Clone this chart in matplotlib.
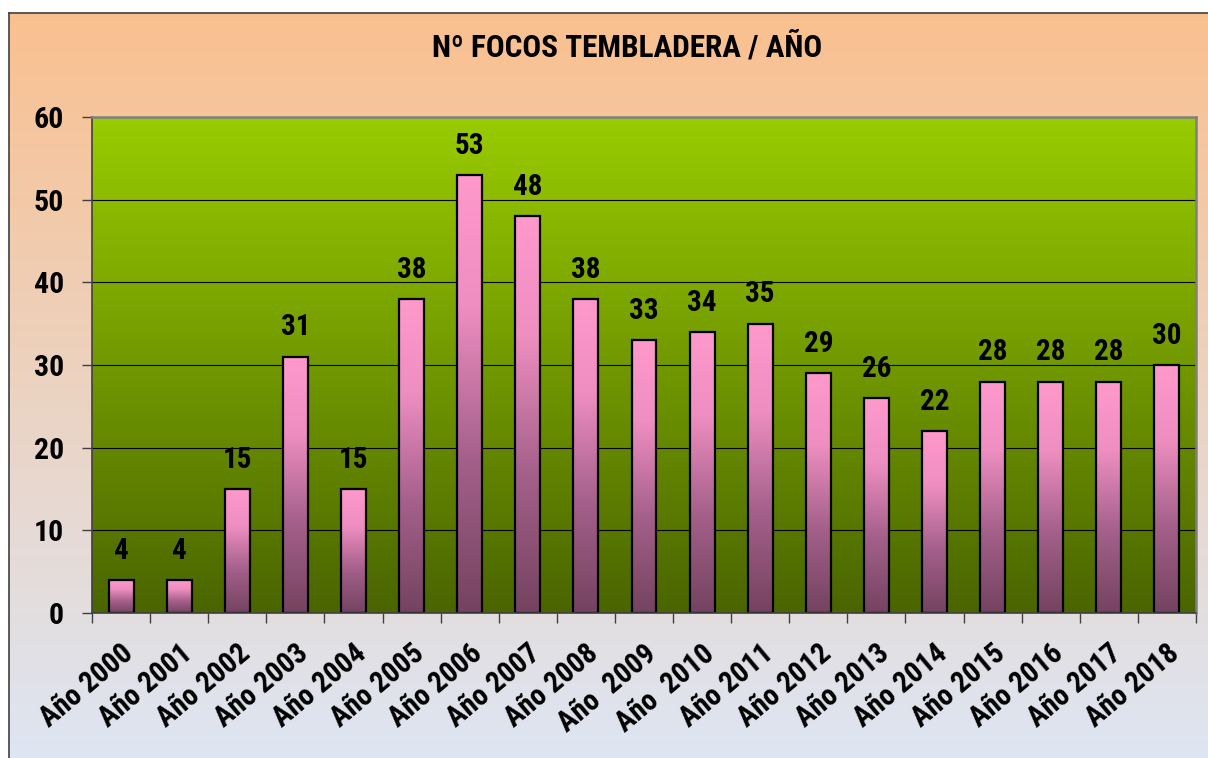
import numpy as np
import matplotlib.pyplot as plt
from matplotlib.colors import LinearSegmentedColormap, to_rgb

plt.rcParams['font.family'] = ['Roboto Condensed', 'Liberation Sans', 'DejaVu Sans']
plt.rcParams['font.weight'] = 'bold'

years = ['Año 2000', 'Año 2001', 'Año 2002', 'Año 2003', 'Año 2004', 'Año 2005',
         'Año 2006', 'Año 2007', 'Año 2008', 'Año  2009', 'Año  2010', 'Año 2011',
         'Año 2012', 'Año 2013', 'Año 2014', 'Año 2015', 'Año 2016', 'Año 2017',
         'Año 2018']
focos = [4, 4, 15, 31, 15, 38, 53, 48, 38, 33, 34, 35, 29, 26, 22, 28, 28, 28, 30]

W, H = 1208, 758
fig = plt.figure(figsize=(W / 100, H / 100), dpi=100)
fig.patch.set_facecolor('white')


def vgrad(top, bottom, n=256):
    t = np.linspace(0, 1, n)[:, None]
    a, b = np.array(to_rgb(top)), np.array(to_rgb(bottom))
    return (a * (1 - t) + b * t)[:, None, :]


# figure background (peach -> light blue) with a frame on left/top
bx0, by1 = 9 / W, 1 - 13 / H
bg = fig.add_axes([bx0, -0.01, 1.02 - bx0, by1 + 0.01], zorder=-5)
bg.imshow(vgrad('#FAC08F', '#DDE6F4'), aspect='auto', extent=[0, 1, 0, 1])
bg.set_xlim(0, 1)
bg.set_ylim(0, 1)
bg.axis('off')
fig.add_artist(plt.Line2D([bx0, bx0], [0, by1], color='#404040', lw=1.2))
fig.add_artist(plt.Line2D([bx0, 1.01], [by1, by1], color='#404040', lw=1.2))

ax = fig.add_axes([92 / W, 1 - 613 / H, (1196 - 92) / W, (613 - 117) / H])
ax.set_facecolor('none')
x = np.arange(len(years))

# plot area gradient
ax.imshow(vgrad('#99CC00', '#4A6500'), aspect='auto',
          extent=[-0.5, len(years) - 0.5, 0, 60], zorder=0)

ax.yaxis.grid(True, color='black', lw=0.8, zorder=1)
ax.set_axisbelow(False)

bars = ax.bar(x, focos, width=0.43, facecolor='none', edgecolor='black',
              linewidth=1.6, zorder=4)

pink = LinearSegmentedColormap.from_list(
    'pink', [(0, '#744360'), (0.35, '#A4608A'), (0.7, '#EE8EC1'), (1, '#FF99CC')])
grad = np.linspace(1, 0, 256)[:, None]
for r in bars:
    ax.imshow(grad, cmap=pink, vmin=0, vmax=1, aspect='auto', zorder=3,
              extent=[r.get_x(), r.get_x() + r.get_width(), 0, r.get_height()])

ax.set_xlim(-0.5, len(years) - 0.5)
ax.set_ylim(0, 60)

ax.bar_label(bars, padding=11, fontsize=21, fontweight='bold', color='black')

ax.set_yticks(range(0, 61, 10))
ax.tick_params(axis='y', length=7, width=1, color='#404040', pad=13, labelsize=21.5)
ax.set_xticks(x)
ax.set_xticklabels(years, rotation=40, ha='right', rotation_mode='anchor',
                   fontsize=21, fontweight='bold')
ax.set_xticks(np.arange(-0.5, len(years), 1), minor=True)
ax.tick_params(axis='x', which='major', length=0, pad=19)
ax.tick_params(axis='x', which='minor', length=7, width=1, color='#404040')
for lab in ax.get_yticklabels():
    lab.set_fontweight('bold')

for s in ['left', 'bottom']:
    ax.spines[s].set_color('#404040')
    ax.spines[s].set_linewidth(1.2)
for s in ['top', 'right']:
    ax.spines[s].set_color('#808080')
    ax.spines[s].set_linewidth(1.8)
for s in ax.spines.values():
    s.set_zorder(6)

fig.text(627 / W, 1 - 47 / H, 'Nº FOCOS TEMBLADERA / AÑO', ha='center',
         va='center', fontsize=22.5, fontweight='bold')

fig.savefig('out.png', dpi=100)
